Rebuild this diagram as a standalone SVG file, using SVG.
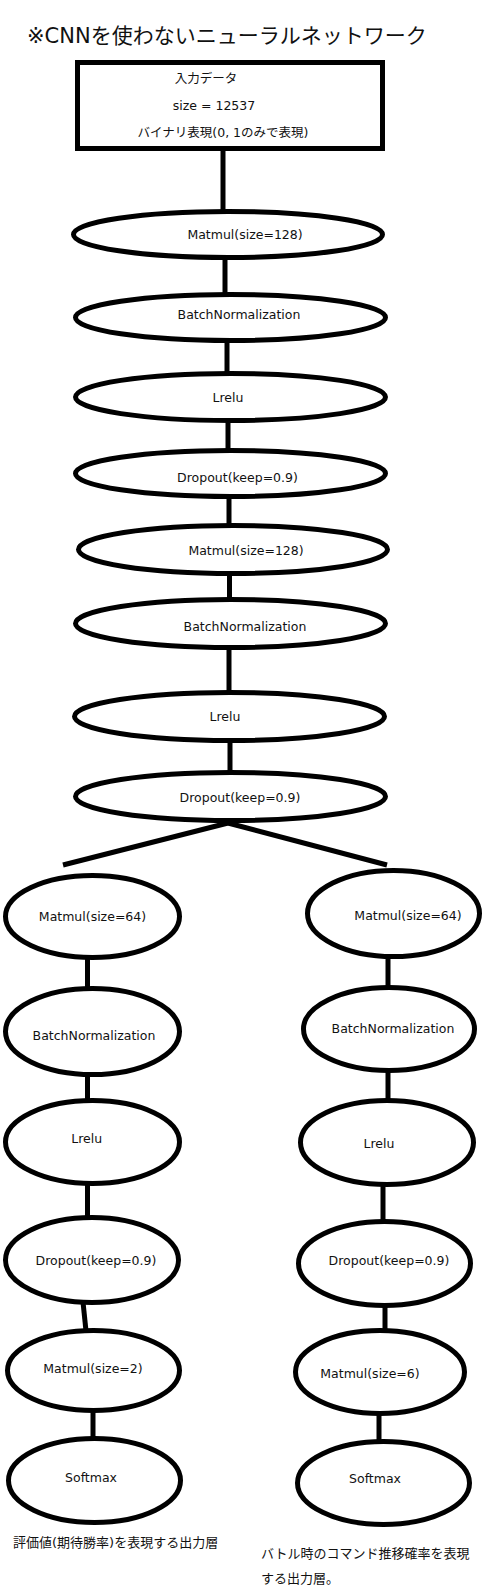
<svg xmlns="http://www.w3.org/2000/svg" width="486" height="1596" viewBox="0 0 486 1596">
<style>
.n{fill:#fff;stroke:#000;stroke-width:5}
.c line{stroke:#000;stroke-width:5}
text{font-family:"DejaVu Sans","Noto Sans CJK JP",sans-serif;font-size:12.5px;fill:#111;text-anchor:middle}
.t{font-size:21px;text-anchor:start}
.cap{font-size:13px;text-anchor:start}
</style>
<rect width="486" height="1596" fill="#fff"/>
<text class="t" x="27" y="43">※CNNを使わないニューラルネットワーク</text>
<g class="c" id="connectors">
<line x1="223" y1="150" x2="223" y2="212"/>
<line x1="225" y1="257" x2="225" y2="295"/>
<line x1="227" y1="340" x2="227" y2="374"/>
<line x1="228" y1="420" x2="228" y2="451"/>
<line x1="229" y1="496" x2="229" y2="526"/>
<line x1="229.5" y1="573" x2="229.5" y2="600"/>
<line x1="229" y1="647" x2="229" y2="693"/>
<line x1="230" y1="740" x2="230" y2="773"/>
<line x1="228" y1="823" x2="63" y2="865"/>
<line x1="228" y1="823" x2="387" y2="865"/>
<line x1="87.5" y1="957" x2="87.5" y2="989"/>
<line x1="87.5" y1="1074" x2="87.5" y2="1101"/>
<line x1="87.5" y1="1183" x2="87.5" y2="1218"/>
<line x1="83" y1="1302" x2="86" y2="1331"/>
<line x1="93" y1="1410" x2="93" y2="1439"/>
<line x1="388" y1="956" x2="388" y2="988"/>
<line x1="388" y1="1070" x2="388" y2="1101"/>
<line x1="383" y1="1184" x2="383" y2="1222"/>
<line x1="385" y1="1305" x2="385" y2="1331"/>
<line x1="379" y1="1413" x2="379" y2="1442"/>
</g>
<g id="input">
<rect class="n" x="77.5" y="62.5" width="305" height="86"/>
<text x="206" y="83">入力データ</text>
<text x="214" y="110">size = 12537</text>
<text x="223" y="137">バイナリ表現(0, 1のみで表現)</text>
</g>
<g id="m1"><ellipse class="n" cx="228" cy="234.5" rx="154.5" ry="23"/><text x="245" y="239">Matmul(size=128)</text></g>
<g id="m2"><ellipse class="n" cx="230.5" cy="317.5" rx="155" ry="23"/><text x="239" y="319">BatchNormalization</text></g>
<g id="m3"><ellipse class="n" cx="230.5" cy="397" rx="155" ry="23.5"/><text x="228" y="402">Lrelu</text></g>
<g id="m4"><ellipse class="n" cx="230.5" cy="473.5" rx="155" ry="23"/><text x="237.5" y="482">Dropout(keep=0.9)</text></g>
<g id="m5"><ellipse class="n" cx="233" cy="549.5" rx="154.5" ry="24"/><text x="246" y="555">Matmul(size=128)</text></g>
<g id="m6"><ellipse class="n" cx="230.5" cy="623.5" rx="155" ry="24"/><text x="245" y="631">BatchNormalization</text></g>
<g id="m7"><ellipse class="n" cx="229.5" cy="716.5" rx="155" ry="24"/><text x="225" y="721">Lrelu</text></g>
<g id="m8"><ellipse class="n" cx="230.5" cy="796.5" rx="155" ry="24"/><text x="240" y="802">Dropout(keep=0.9)</text></g>
<g id="l1"><ellipse class="n" cx="92.5" cy="916.5" rx="87" ry="41"/><text x="92.5" y="921">Matmul(size=64)</text></g>
<g id="l2"><ellipse class="n" cx="92.5" cy="1031.5" rx="87" ry="43"/><text x="94" y="1040">BatchNormalization</text></g>
<g id="l3"><ellipse class="n" cx="92.5" cy="1142" rx="87" ry="41.5"/><text x="86.7" y="1143">Lrelu</text></g>
<g id="l4"><ellipse class="n" cx="92" cy="1260" rx="86.5" ry="42.5"/><text x="96" y="1265">Dropout(keep=0.9)</text></g>
<g id="l5"><ellipse class="n" cx="93.5" cy="1370.5" rx="86" ry="40"/><text x="93" y="1373">Matmul(size=2)</text></g>
<g id="l6"><ellipse class="n" cx="94.5" cy="1480.5" rx="86" ry="42"/><text x="91" y="1482">Softmax</text></g>
<g id="r1"><ellipse class="n" cx="393.5" cy="913.5" rx="86" ry="43"/><text x="408" y="920">Matmul(size=64)</text></g>
<g id="r2"><ellipse class="n" cx="389" cy="1029" rx="85.5" ry="41.5"/><text x="393" y="1033">BatchNormalization</text></g>
<g id="r3"><ellipse class="n" cx="387" cy="1142.5" rx="86.5" ry="42"/><text x="379" y="1148">Lrelu</text></g>
<g id="r4"><ellipse class="n" cx="384.5" cy="1263.5" rx="86" ry="42"/><text x="389" y="1265">Dropout(keep=0.9)</text></g>
<g id="r5"><ellipse class="n" cx="380" cy="1372" rx="84.5" ry="41.5"/><text x="370" y="1378">Matmul(size=6)</text></g>
<g id="r6"><ellipse class="n" cx="383.5" cy="1483" rx="86" ry="41.5"/><text x="375" y="1483">Softmax</text></g>
<g id="captions">
<text class="cap" x="13" y="1547">評価値(期待勝率)を表現する出力層</text>
<text class="cap" x="261" y="1558">バトル時のコマンド推移確率を表現</text>
<text class="cap" x="261" y="1583">する出力層。</text>
</g>
</svg>
